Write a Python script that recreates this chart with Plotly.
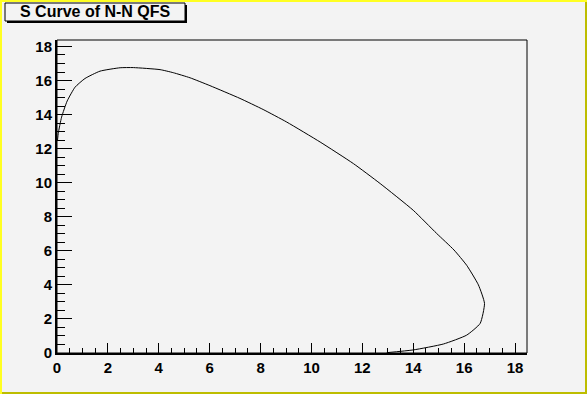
import plotly.graph_objects as go

# Data
curve_x = [0.02, 0.05, 0.18, 0.40, 0.71, 1.10, 1.69, 2.48, 3.00, 4.05, 4.57, 5.23, 6.01,
           7.19, 8.10, 9.03, 10.34, 11.65, 12.70, 14.00, 14.92, 15.60, 16.10, 16.56, 16.80,
           16.63, 16.10, 15.19, 14.00, 12.96]
curve_y = [12.50, 12.90, 13.85, 14.80, 15.61, 16.12, 16.55, 16.75, 16.76, 16.64, 16.46,
           16.16, 15.70, 14.95, 14.30, 13.56, 12.39, 11.12, 9.95, 8.38, 7.02, 6.05, 5.15,
           4.00, 2.91, 1.74, 1.05, 0.53, 0.18, 0.02]
title_text = "S Curve of N-N QFS"

W, H = 587, 394
L, R, T, B = 57, 527, 40, 353
BG = "#f3f3f3"


def px(xp):
    return (xp - L) / (R - L)


def py(yp):
    return (B - yp) / (B - T)


fig = go.Figure()
fig.add_trace(go.Scatter(x=curve_x, y=curve_y, mode="lines",
                         line=dict(color="black", width=1, shape="spline", smoothing=0.5),
                         cliponaxis=False, hoverinfo="skip", showlegend=False))

shapes = []
# canvas bevel border
shapes.append(dict(type="rect", xref="paper", yref="paper", x0=px(0), x1=px(W), y0=py(0), y1=py(2),
                   fillcolor="#ffff22", line=dict(width=0), layer="above"))
shapes.append(dict(type="rect", xref="paper", yref="paper", x0=px(0), x1=px(2), y0=py(0), y1=py(H),
                   fillcolor="#ffff22", line=dict(width=0), layer="above"))
shapes.append(dict(type="rect", xref="paper", yref="paper", x0=px(W - 2), x1=px(W), y0=py(2), y1=py(H),
                   fillcolor="#bdbd00", line=dict(width=0), layer="above"))
shapes.append(dict(type="rect", xref="paper", yref="paper", x0=px(2), x1=px(W), y0=py(H - 2), y1=py(H),
                   fillcolor="#bdbd00", line=dict(width=0), layer="above"))
# plot frame
shapes.append(dict(type="rect", xref="paper", yref="paper", x0=0, x1=1, y0=0, y1=1,
                   line=dict(color="black", width=1), layer="above"))
# title box shadow + box
shapes.append(dict(type="rect", xref="paper", yref="paper", x0=px(7), x1=px(187), y0=py(5), y1=py(23),
                   fillcolor="black", line=dict(width=0), layer="above"))
shapes.append(dict(type="rect", xref="paper", yref="paper", x0=px(5), x1=px(185), y0=py(3), y1=py(21),
                   fillcolor=BG, line=dict(color="black", width=1), layer="above"))

fig.update_layout(
    width=W, height=H,
    margin=dict(l=L, r=W - R, t=T, b=H - B, pad=0),
    paper_bgcolor=BG, plot_bgcolor=BG,
    shapes=shapes,
    annotations=[dict(text="<b>%s</b>" % title_text, xref="paper", yref="paper",
                      x=px(95), y=py(12), xanchor="center", yanchor="middle", showarrow=False,
                      font=dict(family="Liberation Sans, Arial, sans-serif", size=16, color="black"))],
    xaxis=dict(range=[0, 18.47], dtick=2, tick0=0, ticks="inside", ticklen=10, tickwidth=1,
               tickcolor="black", showline=True, linewidth=2, linecolor="black",
               showgrid=False, zeroline=False,
               minor=dict(dtick=0.5, ticks="inside", ticklen=5, tickwidth=1, tickcolor="black"),
               tickfont=dict(family="Liberation Sans, Arial, sans-serif", size=15, color="black", weight="bold")),
    yaxis=dict(range=[0, 18.38], dtick=2, tick0=0, ticks="inside", ticklen=15, tickwidth=1,
               tickcolor="black", showline=True, linewidth=2, linecolor="black",
               showgrid=False, zeroline=False,
               minor=dict(dtick=0.5, ticks="inside", ticklen=8, tickwidth=1, tickcolor="black"),
               tickfont=dict(family="Liberation Sans, Arial, sans-serif", size=15, color="black", weight="bold")),
)

fig.write_html("out.html")
